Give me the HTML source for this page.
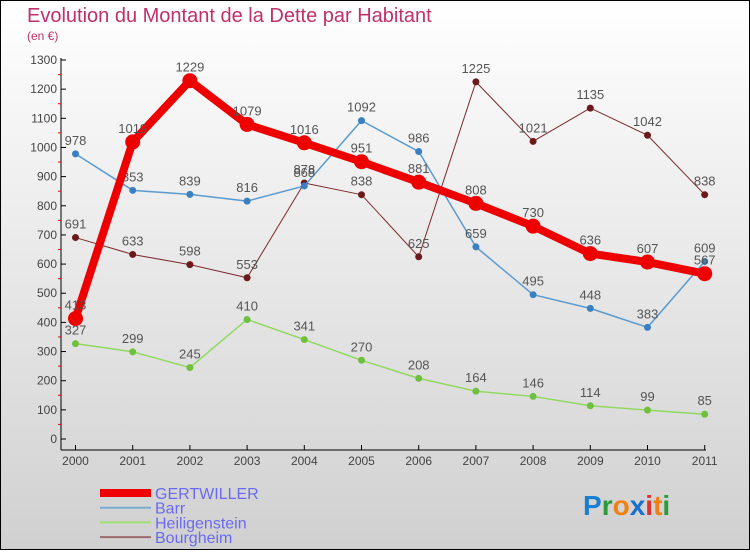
<!DOCTYPE html>
<html><head><meta charset="utf-8"><style>
body{margin:0;}
svg text{font-family:"Liberation Sans",sans-serif;}
</style></head><body>
<svg width="750" height="550" xmlns="http://www.w3.org/2000/svg">
<defs><linearGradient id="bg" x1="0" y1="0" x2="0" y2="1"><stop offset="0" stop-color="#ffffff"/><stop offset="1" stop-color="#d0d0d0"/></linearGradient></defs>
<rect x="0.5" y="0.5" width="749" height="549" fill="url(#bg)" stroke="#000"/>
<text x="27" y="22" font-size="20" fill="#c0306a">Evolution du Montant de la Dette par Habitant</text>
<text x="27" y="40" font-size="12" fill="#c0306a">(en €)</text>
<g id="axes"></g>
<g id="series"></g>
<g id="legend"></g>
<text x="583" y="515" font-size="28" font-weight="bold"><tspan fill="#1a7fd0">P</tspan><tspan fill="#2a9a3a">r</tspan><tspan fill="#f08010">o</tspan><tspan fill="#1a6fd0">x</tspan><tspan fill="#e03030">i</tspan><tspan fill="#f08010">t</tspan><tspan fill="#2a9a3a">i</tspan></text>
</svg>
<script>
const years=["2000","2001","2002","2003","2004","2005","2006","2007","2008","2009","2010","2011"];
const yTicks=[0,100,200,300,400,500,600,700,800,900,1000,1100,1200,1300];
const gertwiller=[413,1019,1229,1079,1016,951,881,808,730,636,607,567];
const barr=[978,853,839,816,868,1092,986,659,495,448,383,609];
const heiligenstein=[327,299,245,410,341,270,208,164,146,114,99,85];
const bourgheim=[691,633,598,553,878,838,625,1225,1021,1135,1042,838];
const NS="http://www.w3.org/2000/svg";
const X=i=>75.5+i*57.2;
const Y=v=>439-v*(379/1300);
function mk(t,a,p){const e=document.createElementNS(NS,t);for(const k in a)e.setAttribute(k,a[k]);p.appendChild(e);return e;}
const ax=document.getElementById('axes');
const yl=mk('line',{x1:61,y1:58,x2:61,y2:450,stroke:'#000'},ax);


const xl=mk('line',{x1:61,y1:450,x2:706,y2:450,stroke:'#000'},ax);


yTicks.forEach(v=>{
  mk('line',{x1:61,y1:Y(v),x2:66,y2:Y(v),stroke:'#000'},ax);
  if(v<1300) mk('line',{x1:58,y1:Y(v+50),x2:61,y2:Y(v+50),stroke:'#e00'},ax);
  const t=mk('text',{x:57,y:Y(v)+4,'font-size':12,'text-anchor':'end',fill:'#444'},ax);
  t.textContent=v;
  
  
});
years.forEach((y,i)=>{
  mk('line',{x1:X(i),y1:445,x2:X(i),y2:450,stroke:'#000'},ax);
  const t=mk('text',{x:X(i),y:465,'font-size':12,'text-anchor':'middle',fill:'#444'},ax);
  t.textContent=y;
  
  
});
const sg=document.getElementById('series');
const series=[
 {name:'bourgheim',data:bourgheim,color:'#7a2a2a',w:1,r:3.5,dot:'#6a1a1a'},
 {name:'heiligenstein',data:heiligenstein,color:'#90d860',w:1.5,r:3.5,dot:'#70c040'},
 {name:'barr',data:barr,color:'#5a9ad0',w:1.5,r:3.5,dot:'#3a80c0'},
 {name:'gertwiller',data:gertwiller,color:'#ee0000',w:8,r:7.5,dot:'#ee0000'}];
series.forEach(s=>{
  const g=mk('g',{},sg);
  
  
  const p=mk('polyline',{points:s.data.map((v,i)=>X(i)+','+Y(v)).join(' '),fill:'none',stroke:s.color,'stroke-width':s.w,'stroke-linejoin':'round'},g);
  
  
  s.data.forEach((v,i)=>{
    const c=mk('circle',{cx:X(i),cy:Y(v),r:s.r,fill:s.dot},g);
    
    
    const t=mk('text',{x:X(i),y:Y(v)-9,'font-size':13,'text-anchor':'middle',fill:'#555'},g);
    t.textContent=v;
    
    
  });
});
const lg=document.getElementById('legend');
const leg=[['GERTWILLER','#ee0000',8],['Barr','#7aaed0',2],['Heiligenstein','#a0e070',2],['Bourgheim','#9a6a6a',2]];
leg.forEach((l,i)=>{
  const y=493+i*14.7;
  const g=mk('g',{},lg);
  
  
  mk('line',{x1:100,y1:y,x2:151,y2:y,stroke:l[1],'stroke-width':l[2]},g);
  const t=mk('text',{x:155,y:y+6,'font-size':16,fill:'#6a6af0'},g);
  t.textContent=l[0];
});
</script>
</body></html>
